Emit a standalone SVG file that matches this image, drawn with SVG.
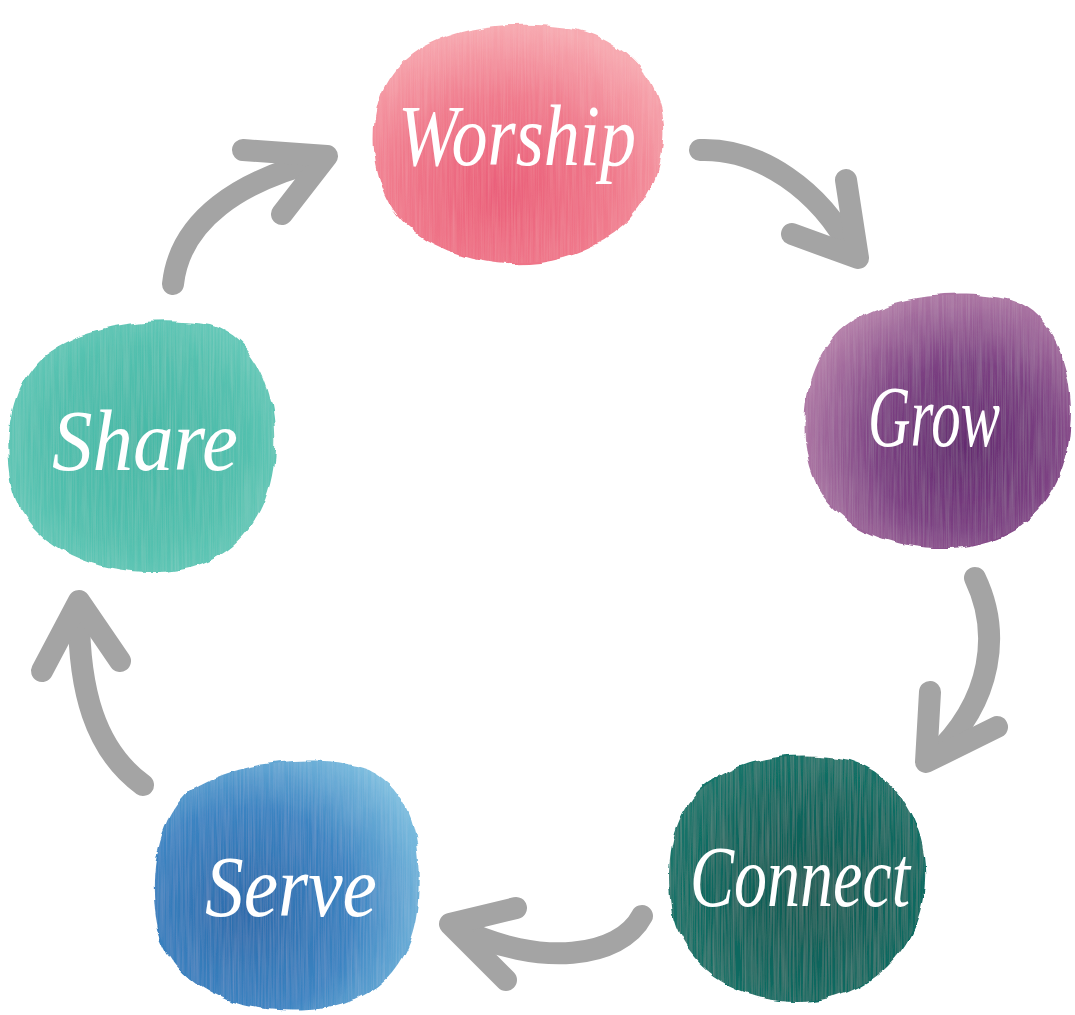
<svg xmlns="http://www.w3.org/2000/svg" width="1075" height="1015" viewBox="0 0 1075 1015">
<defs>
<style>
.lbl{font-family:"Liberation Serif","DejaVu Serif",serif;font-style:italic;fill:#ffffff;text-anchor:middle;}
.shaft{fill:none;stroke:#a4a4a4;stroke-linecap:round;stroke-linejoin:round;}
.head{fill:none;stroke:#a4a4a4;stroke-width:22;stroke-linecap:round;stroke-linejoin:round;}
</style>
<filter id="wc" x="-10%" y="-10%" width="120%" height="120%">
<feTurbulence type="fractalNoise" baseFrequency="0.6 0.015" numOctaves="2" seed="3" result="n"/>
<feColorMatrix in="n" type="matrix" values="0 0 0 0 1  0 0 0 0 1  0 0 0 0 1  0 0 0 0.15 -0.05" result="w"/>
<feComposite in="w" in2="SourceGraphic" operator="in" result="wt"/>
<feTurbulence type="fractalNoise" baseFrequency="0.04" numOctaves="3" seed="7" result="d"/>
<feDisplacementMap in="SourceGraphic" in2="d" scale="8" xChannelSelector="R" yChannelSelector="G" result="disp"/>
<feMerge><feMergeNode in="disp"/><feMergeNode in="wt"/></feMerge>
</filter>
<radialGradient id="gW" cx="0.45" cy="0.7" r="0.7">
<stop offset="0" stop-color="#ea5d78"/><stop offset="0.55" stop-color="#f07a8c"/><stop offset="1" stop-color="#f7a9b0"/>
</radialGradient>
<radialGradient id="gG" cx="0.6" cy="0.6" r="0.65">
<stop offset="0" stop-color="#642b70"/><stop offset="0.5" stop-color="#7b4082"/><stop offset="1" stop-color="#b47fa9"/>
</radialGradient>
<radialGradient id="gC" cx="0.55" cy="0.55" r="0.65">
<stop offset="0" stop-color="#075a52"/><stop offset="0.6" stop-color="#0e685f"/><stop offset="1" stop-color="#177a6f"/>
</radialGradient>
<radialGradient id="gS" cx="0.35" cy="0.6" r="0.75">
<stop offset="0" stop-color="#2c6bab"/><stop offset="0.55" stop-color="#3b84c2"/><stop offset="1" stop-color="#82c2e1"/>
</radialGradient>
<radialGradient id="gH" cx="0.5" cy="0.5" r="0.65">
<stop offset="0" stop-color="#47b8a6"/><stop offset="0.6" stop-color="#52c0ae"/><stop offset="1" stop-color="#70cdbe"/>
</radialGradient>
</defs>
<rect width="1075" height="1015" fill="#ffffff"/>

<g id="connectors">
<g id="arrow-worship-grow">
<path class="shaft" stroke-width="22" d="M700,150 C760,148 820,190 852,252"/>
<polyline class="head" points="846,180 858,258 792,234"/>
</g>
<g id="arrow-grow-connect">
<path class="shaft" stroke-width="22" d="M975,578 C1000,630 995,700 932,758"/>
<polyline class="head" points="930,692 926,762 997,727"/>
</g>
<g id="arrow-connect-serve">
<path class="shaft" stroke-width="22" d="M642,916 C620,958 540,968 458,928"/>
<polyline class="head" points="516,908 450,924 506,980"/>
</g>
<g id="arrow-serve-share">
<path class="shaft" stroke-width="22" d="M143,785 C95,750 78,690 79,608"/>
<polyline class="head" points="42,671 79,601 120,661"/>
</g>
<g id="arrow-share-worship">
<path class="shaft" stroke-width="22" d="M173,284 C180,220 240,180 322,160"/>
<polyline class="head" points="243,150 327,156 282,214"/>
</g>
</g>

<g id="node-worship">
<path filter="url(#wc)" fill="url(#gW)" d="M395,70 C430,30 500,18 570,28 C630,38 668,90 663,140 C660,200 620,250 540,262 C470,270 400,240 383,190 C368,150 370,100 395,70 Z"/>
<text class="lbl" x="517" y="165" font-size="86" textLength="238" lengthAdjust="spacingAndGlyphs">Worship</text>
</g>
<g id="node-grow">
<path filter="url(#wc)" fill="url(#gG)" d="M840,330 C880,295 960,288 1010,300 C1060,315 1075,380 1070,430 C1065,500 1020,545 950,548 C880,550 820,520 808,460 C798,410 810,360 840,330 Z"/>
<text class="lbl" x="934" y="446" font-size="86" textLength="132" lengthAdjust="spacingAndGlyphs">Grow</text>
</g>
<g id="node-connect">
<path filter="url(#wc)" fill="url(#gC)" d="M700,790 C740,755 800,750 850,760 C900,775 928,830 925,880 C922,950 870,1000 800,1002 C730,1003 675,960 670,900 C666,850 675,815 700,790 Z"/>
<text class="lbl" x="800" y="906" font-size="86" textLength="220" lengthAdjust="spacingAndGlyphs">Connect</text>
</g>
<g id="node-serve">
<path filter="url(#wc)" fill="url(#gS)" d="M190,790 C240,760 320,752 370,770 C410,790 422,840 418,900 C414,960 380,1005 310,1010 C240,1015 175,990 158,930 C148,880 155,820 190,790 Z"/>
<text class="lbl" x="291" y="916" font-size="86" textLength="172" lengthAdjust="spacingAndGlyphs">Serve</text>
</g>
<g id="node-share">
<path filter="url(#wc)" fill="url(#gH)" d="M40,360 C80,325 150,315 210,325 C260,340 278,400 275,450 C272,520 230,570 160,572 C90,574 25,545 12,485 C3,440 10,390 40,360 Z"/>
<text class="lbl" x="145" y="470" font-size="86" textLength="186" lengthAdjust="spacingAndGlyphs">Share</text>
</g>
</svg>
